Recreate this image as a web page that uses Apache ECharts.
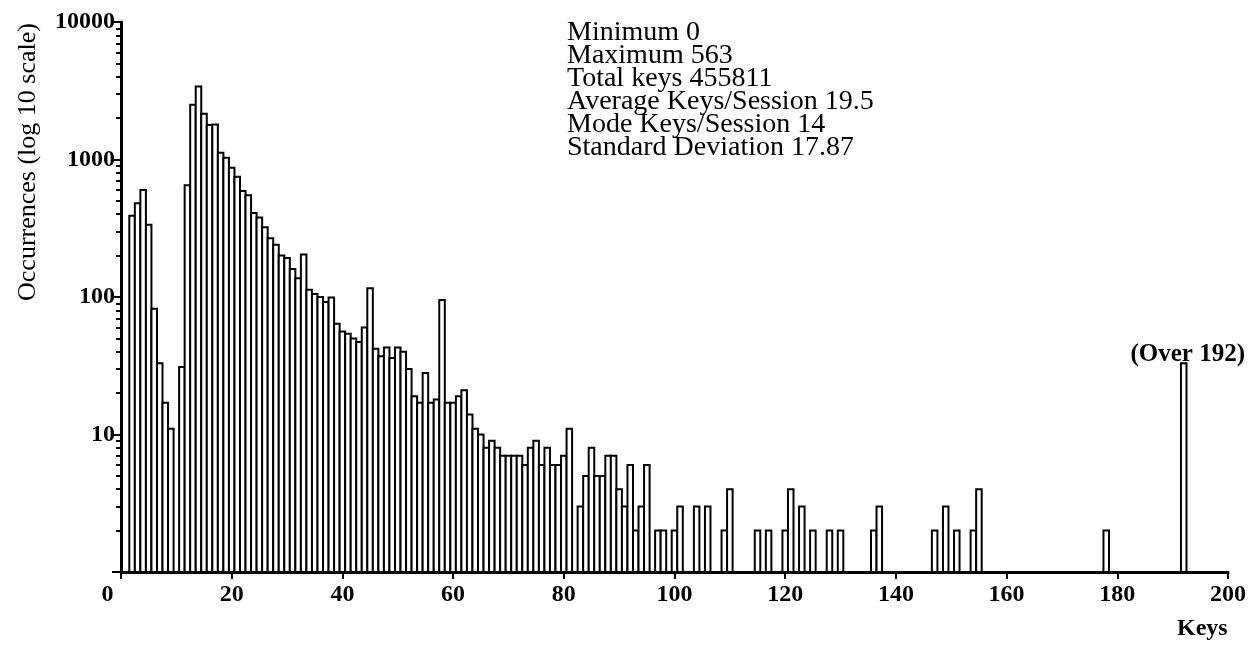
<!DOCTYPE html>
<html>
<head>
<meta charset="utf-8">
<script src="https://cdn.jsdelivr.net/npm/echarts@6/dist/echarts.min.js"></script>
<style>
  html, body { margin: 0; padding: 0; background: #fff; }
  #chart { width: 1255px; height: 645px; }
</style>
</head>
<body>
<div id="chart"></div>
<script>
// Keys per session (bin) and number of occurrences (log scale)
const keys = [
  2, 3, 4, 5, 6, 7, 8, 9, 11, 12, 13, 14, 15, 16, 17, 18, 19, 20,
  21, 22, 23, 24, 25, 26, 27, 28, 29, 30, 31, 32, 33, 34, 35, 36, 37, 38, 39, 40,
  41, 42, 43, 44, 45, 46, 47, 48, 49, 50, 51, 52, 53, 54, 55, 56, 57, 58, 59, 60,
  61, 62, 63, 64, 65, 66, 67, 68, 69, 70, 71, 72, 73, 74, 75, 76, 77, 78, 79, 80,
  81, 83, 84, 85, 86, 87, 88, 89, 90, 91, 92, 93, 94, 95, 97, 98, 100,
  101, 104, 106, 109, 110, 115, 117, 120, 121, 123, 125, 128, 130,
  136, 137, 147, 149, 151, 154, 155, 178, 192
];
const counts = [
  390, 480, 600, 335, 82, 33, 17, 11, 31, 650, 2500, 3400, 2150, 1780, 1800, 1120, 1030, 870,
  750, 590, 550, 408, 378, 322, 268, 240, 200, 192, 160, 137, 204, 113, 105, 100, 92, 99, 64, 56,
  54, 50, 47, 60, 116, 42, 37, 43, 36, 43, 40, 30, 19, 17, 28, 17, 18, 95, 17, 17,
  19, 21, 14, 11, 10, 8, 9, 8, 7, 7, 7, 7, 6, 8, 9, 6, 8, 6, 6, 7,
  11, 3, 5, 8, 5, 5, 7, 7, 4, 3, 6, 2, 3, 6, 2, 2, 2,
  3, 3, 3, 2, 4, 2, 2, 2, 4, 3, 2, 2, 2,
  2, 3, 2, 3, 2, 2, 4, 2, 33
];
const xTicks = [0, 20, 40, 60, 80, 100, 120, 140, 160, 180, 200];
const yTicks = [1, 10, 100, 1000, 10000];
const statsLines = [
  'Minimum 0',
  'Maximum 563',
  'Total keys 455811',
  'Average Keys/Session 19.5',
  'Mode Keys/Session 14',
  'Standard Deviation 17.87'
];
const overflowKey = 192;
const overflowLabel = '(Over 192)';
const xTitle = 'Keys';
const yTitle = 'Occurrences (log 10 scale)';

const FONT = '"Liberation Serif", "DejaVu Serif", serif';
const data = keys.map((k, i) => [k, counts[i]]);

const chart = echarts.init(document.getElementById('chart'), null, { renderer: 'canvas' });
chart.setOption({
  animation: false,
  backgroundColor: '#ffffff',
  grid: { left: 121, right: 27, top: 22, bottom: 73, containLabel: false },
  xAxis: {
    type: 'value',
    min: xTicks[0],
    max: xTicks[xTicks.length - 1],
    interval: 20,
    axisLine: { show: true, onZero: false, lineStyle: { color: '#000', width: 3 } },
    axisTick: { show: true, length: 7, lineStyle: { color: '#000', width: 2 } },
    splitLine: { show: false },
    axisLabel: {
      color: '#000', fontFamily: FONT, fontSize: 24, fontWeight: 'bold', margin: 11,
      formatter: v => v === 0 ? '{z|0}' : String(v),
      rich: { z: { fontFamily: FONT, fontSize: 24, fontWeight: 'bold', color: '#000', padding: [0, 27, 0, 0] } }
    }
  },
  yAxis: {
    type: 'log',
    logBase: 10,
    min: yTicks[0],
    max: yTicks[yTicks.length - 1],
    axisLine: { show: true, lineStyle: { color: '#000', width: 3 } },
    axisTick: { show: true, length: 9, lineStyle: { color: '#000', width: 2 } },
    minorTick: { show: true, splitNumber: 9, length: 5, lineStyle: { color: '#000', width: 2 } },
    splitLine: { show: false },
    minorSplitLine: { show: false },
    axisLabel: {
      color: '#000', fontFamily: FONT, fontSize: 24, fontWeight: 'bold', margin: 6,
      formatter: v => (v < 2 ? '' : String(Math.round(v)))
    }
  },
  series: [{
    type: 'custom',
    data: data,
    encode: { x: 0, y: 1 },
    clip: false,
    renderItem: function (params, api) {
      const k = api.value(0);
      const v = api.value(1);
      const top = api.coord([k - 0.5, v]);
      const bot = api.coord([k + 0.5, yTicks[0]]);
      const children = [{
        type: 'rect',
        shape: { x: top[0], y: top[1], width: bot[0] - top[0], height: bot[1] - top[1] },
        style: { fill: '#ffffff', stroke: '#000000', lineWidth: 2 }
      }];
      if (k === overflowKey) {
        children.push({
          type: 'text',
          style: {
            text: overflowLabel, x: (top[0] + bot[0]) / 2 + 4, y: top[1] + 4,
            fill: '#000', font: 'bold 25px ' + FONT, align: 'center', verticalAlign: 'bottom'
          }
        });
      }
      return { type: 'group', children: children };
    },
    z: 1
  }],
  graphic: [
    {
      type: 'text', left: 567, top: 19,
      style: {
        text: statsLines.join('\n'), fill: '#000', font: '28px ' + FONT, lineHeight: 23
      }
    },
    {
      type: 'text', left: 1177, top: 617,
      style: { text: xTitle, fill: '#000', font: 'bold 24px ' + FONT }
    },
    {
      type: 'text', x: 28, y: 162, rotation: Math.PI / 2,
      style: { text: yTitle, fill: '#000', font: '26px ' + FONT, align: 'center', verticalAlign: 'middle' }
    }
  ]
});
</script>
</body>
</html>
